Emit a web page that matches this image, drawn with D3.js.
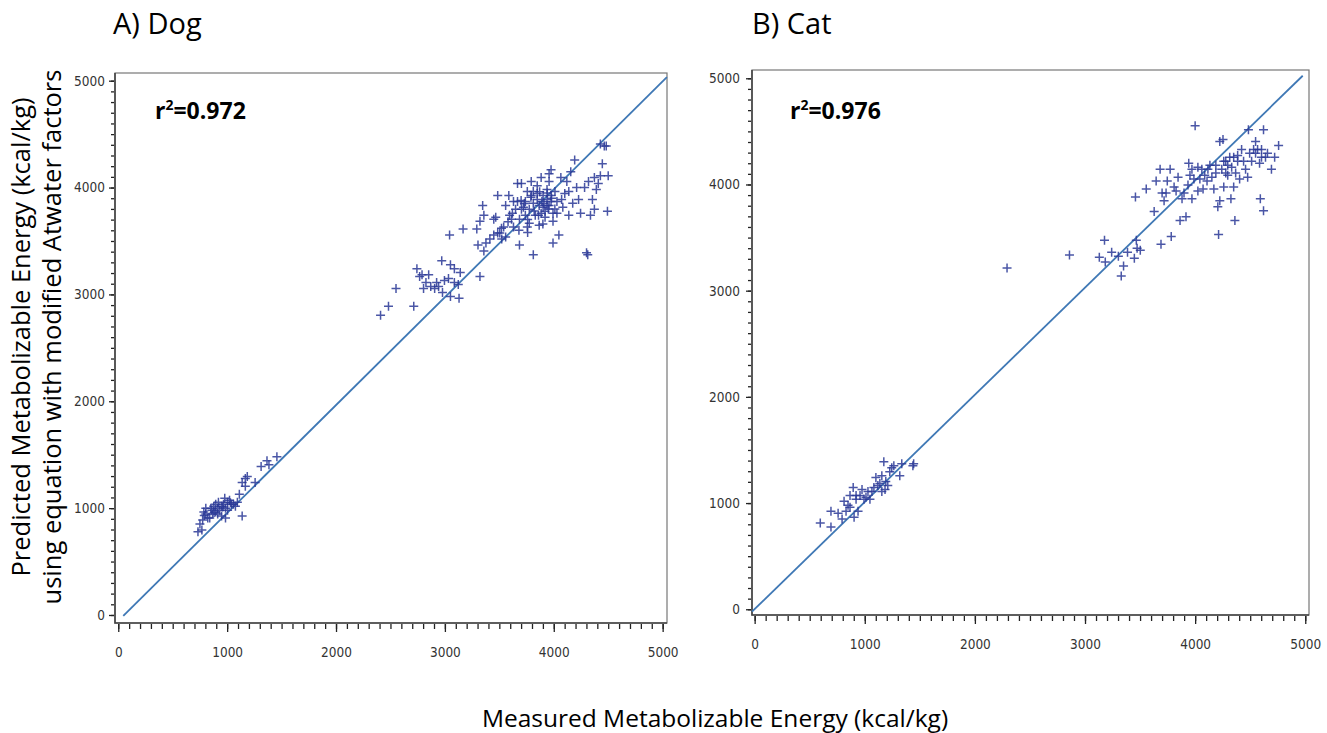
<!DOCTYPE html>
<html>
<head>
<meta charset="utf-8">
<script src="https://cdn.jsdelivr.net/npm/d3@7"></script>
<style>
	body { margin: 0; background: #fff; }
	svg { display: block; }
	.tick text { font-family: "Liberation Sans Narrow", "Arial Narrow", "DejaVu Sans Condensed", sans-serif; font-size: 13.5px; fill: #333; }
	.tick line { stroke: #222; stroke-width: 1.3; }
	.title { font-family: "Open Sans", "Noto Sans", sans-serif; }
</style>
</head>
<body>
<div id="chart"></div>
<script>
// dog: measured vs predicted ME (kcal/kg)
var dogMeasured = [
	732, 750, 775, 786, 804, 768, 822, 859, 877, 895, 913, 931, 949, 967, 985, 1004, 978, 1022, 1040, 1058,
	985, 949, 840, 895, 913, 1004, 1094, 1112, 1138, 1167, 1185, 1138, 1257, 1312, 1366, 1384, 1457, 1167, 804, 866,
	920, 1076, 790, 850, 880, 960, 1030,
	2409, 2482, 2551, 2714, 2743, 2768, 2790, 2804, 2826, 2851, 2870, 2906, 2924, 2942, 2971, 2978, 2996, 3033, 3051, 3051,
	3087, 3087, 3123, 3130, 3141, 3167, 3043, 3322, 3293, 3304, 3322, 3347, 3358, 3377, 3358, 3413, 3449, 3467, 3485, 3504,
	3522, 3540, 3558, 3587, 3594, 3630, 3649, 3630, 3667, 3685, 3703, 3685, 3721, 3739, 3757, 3757, 3775, 3793, 3812, 3812,
	3830, 3848, 3866, 3866, 3884, 3891, 3902, 3920, 3938, 3938, 3957, 3957, 3975, 3975, 3993, 3993, 4011, 4029, 4047, 4065,
	4083, 4101, 4120, 4138, 4156, 4174, 4192, 4210, 4228, 4246, 4301, 4312, 4319, 4337, 4355, 4373, 4391, 4409, 4428, 4446,
	4428, 4464, 4482, 4493, 4500, 4373, 4283, 3848, 3558, 3612, 3739, 3775, 3812, 3993, 4029, 4072, 4138, 3884, 3920, 3957,
	3793, 3703, 3667, 3449, 3485, 3975, 3938, 3902, 3848,
	3620, 3680, 3730, 3760, 3790, 3820, 3870, 3910, 3950, 3980, 4010, 3860, 3900, 3940, 3700, 3760, 3520, 3580
];
var dogPredicted = [
	778, 852, 889, 963, 944, 796, 907, 981, 1018, 963, 1000, 981, 1018, 1037, 1000, 1055, 1092, 1074, 1037, 1037,
	907, 926, 907, 1037, 944, 981, 1055, 1130, 1240, 1204, 1296, 926, 1240, 1389, 1444, 1407, 1481, 1278, 1000, 944,
	1055, 1018, 930, 1000, 960, 1010, 1050,
	2804, 2889, 3056, 2889, 3241, 3167, 3185, 3056, 3111, 3185, 3074, 3056, 3111, 3074, 3315, 3019, 3130, 3148, 3278, 2981,
	3241, 3111, 3093, 2963, 3204, 3611, 3556, 3167, 3611, 3463, 3685, 3833, 3741, 3481, 3407, 3519, 3556, 3722, 3926, 3574,
	3519, 3630, 3537, 3926, 3741, 3870, 3796, 3630, 4037, 3704, 4037, 3463, 3815, 3870, 3630, 3963, 3796, 4056, 3370, 3852,
	3741, 3944, 3648, 3833, 4093, 3870, 3926, 3778, 3981, 3889, 4130, 3833, 4167, 3926, 3481, 3759, 3963, 3870, 3556, 4093,
	3815, 3944, 4056, 3741, 4148, 3852, 4259, 4000, 3889, 3759, 3389, 3370, 4056, 3741, 3889, 3796, 3981, 4037, 4111, 4222,
	4407, 4389, 4389, 3778, 4111, 4093, 4000, 4018, 3833, 3704, 3741, 3667, 3963, 3685, 3759, 3889, 3963, 3759, 3722, 4056,
	3926, 3796, 3870, 3704, 3574, 3870, 3833, 3815, 3889,
	3760, 3600, 3850, 3700, 3910, 3780, 3960, 3850, 3800, 3900, 3800, 3740, 3660, 3950, 3880, 3580, 3620, 3680
];

// cat: measured vs predicted ME (kcal/kg)
var catMeasured = [
	596, 693, 693, 758, 812, 830, 848, 866, 895, 903, 921, 939, 921, 957, 975, 993, 1011, 1029, 1047, 1065,
	1083, 1101, 1119, 1137, 1155, 1173, 1184, 1191, 1209, 1227, 1245, 1264, 1318, 1336, 1444, 1437, 794, 866, 1155,
	2292, 2859, 3130, 3177, 3184, 3242, 3303, 3329, 3350, 3386, 3448, 3466, 3458, 3473, 3502, 3556, 3628, 3646, 3682, 3690,
	3700, 3718, 3747, 3773, 3783, 3809, 3845, 3863, 3881, 3899, 3917, 3935, 3942, 3953, 3971, 3989, 4000, 4025, 4043, 4061,
	4072, 4087, 4108, 4134, 4152, 4170, 4188, 4206, 4213, 4224, 4224, 4242, 4253, 4260, 4278, 4296, 4314, 4325, 4332, 4350,
	4361, 4368, 4386, 4404, 4422, 4440, 4458, 4477, 4484, 4495, 4513, 4531, 4549, 4567, 4585, 4592, 4603, 4621, 4621, 4639,
	4657, 4693, 4722, 4758, 4386, 4296, 4188, 4116, 4025, 3827, 3736, 4278, 4350, 4549, 4603, 3971, 4260
];
var catPredicted = [
	812, 923, 774, 905, 1016, 923, 979, 1072, 1147, 867, 1035, 923, 1072, 1072, 1128, 1035, 1054, 1109, 1035, 1109,
	1147, 1240, 1165, 1184, 1258, 1389, 1128, 1203, 1165, 1296, 1333, 1351, 1258, 1370, 1370, 1351, 849, 961, 1109,
	3213, 3336, 3314, 3474, 3269, 3362, 3325, 3138, 3232, 3362, 3306, 3474, 3883, 3399, 3380, 3958, 3745, 4032, 4144, 3436,
	3920, 3846, 4032, 4144, 3511, 3976, 4069, 3660, 3865, 3920, 3697, 3995, 4200, 4088, 3865, 4051, 4553, 3939, 4051, 4144,
	3958, 4088, 4032, 4181, 4069, 3958, 4107, 3790, 3530, 4404, 3846, 4144, 4423, 3976, 4218, 4088, 4256, 3865, 4163, 3976,
	3660, 4107, 4218, 4051, 4330, 4218, 4144, 4069, 4516, 4293, 4218, 4330, 4404, 4330, 4200, 3865, 4330, 4516, 3753, 4256,
	4293, 4144, 4256, 4367, 4274, 4181, 4181, 4144, 4163, 3939, 3920, 4107, 4256, 4293, 4256, 4144, 4218
];

// fitted lines, [x, y] end points
var dogFit = [[46, -9], [5039, 5033]];
var catFit = [[-24, -23], [4977, 5024]];

var majorTicks = [0, 1000, 2000, 3000, 4000, 5000];
var minorTicks = d3.range(0, 5001, 100);

var svg = d3.select('#chart')
	.append('svg')
	.attr('width', 1327)
	.attr('height', 733);

var drawPanel = function(p) {

	var x = d3.scaleLinear()
		.domain(p.xDomain)
		.range([p.left, p.right]);

	var y = d3.scaleLinear()
		.domain(p.yDomain)
		.range([p.bottom, p.top]);

	var g = svg.append('g');

	g.append('rect')
		.attr('x', p.left)
		.attr('y', p.top)
		.attr('width', p.right - p.left)
		.attr('height', p.bottom - p.top)
		.attr('fill', 'none')
		.attr('stroke', '#777')
		.attr('stroke-width', 1.2);

	// minor ticks first, then labelled ones; ticks sit outside the frame
	g.append('g')
		.attr('class', 'minor')
		.attr('transform', 'translate(0,' + (p.bottom + 1) + ')')
		.call(d3.axisBottom(x).tickValues(minorTicks).tickSizeInner(5).tickSizeOuter(0).tickFormat(''))
		.select('.domain').remove();

	g.append('g')
		.attr('transform', 'translate(0,' + (p.bottom + 1) + ')')
		.call(d3.axisBottom(x).tickValues(majorTicks).tickSizeInner(8).tickSizeOuter(0)
			.tickPadding(p.xPad).tickFormat(d3.format('d')))
		.select('.domain').remove();

	g.append('g')
		.attr('class', 'minor')
		.attr('transform', 'translate(' + (p.left - 1) + ',0)')
		.call(d3.axisLeft(y).tickValues(minorTicks).tickSizeInner(3).tickSizeOuter(0).tickFormat(''))
		.select('.domain').remove();

	g.append('g')
		.attr('transform', 'translate(' + (p.left - 1) + ',0)')
		.call(d3.axisLeft(y).tickValues(majorTicks).tickSizeInner(5).tickSizeOuter(0)
			.tickPadding(p.yPad).tickFormat(d3.format('d')))
		.select('.domain').remove();

	g.append('path')
		.attr('d', 'M' + p.left + ',' + p.top + 'V' + p.bottom + 'H' + p.right)
		.attr('fill', 'none')
		.attr('stroke', '#444')
		.attr('stroke-width', 1.6);

	g.append('line')
		.attr('x1', x(p.fit[0][0]))
		.attr('y1', y(p.fit[0][1]))
		.attr('x2', x(p.fit[1][0]))
		.attr('y2', y(p.fit[1][1]))
		.attr('stroke', '#3f78b5')
		.attr('stroke-width', 1.8);

	g.selectAll('path.pt')
		.data(p.xs)
		.enter()
		.append('path')
		.attr('class', 'pt')
		.attr('d', function(d, i) {
			var px = x(d), py = y(p.ys[i]);
			return 'M' + (px - 4.5) + ',' + py + 'H' + (px + 4.5) + 'M' + px + ',' + (py - 4.5) + 'V' + (py + 4.5);
		})
		.attr('stroke', '#2a3896')
		.attr('stroke-width', 1.5)
		.attr('stroke-opacity', 0.85);

	var r2 = g.append('text')
		.attr('class', 'title')
		.attr('x', p.r2x)
		.attr('y', p.r2y)
		.style('font-size', '23px')
		.style('font-weight', 'bold');
	r2.append('tspan').text('r');
	r2.append('tspan').text('2').attr('dy', -9).style('font-size', '14px');
	r2.append('tspan').text('=' + p.r2).attr('dy', 9);

	g.append('text')
		.attr('class', 'title')
		.attr('x', p.titleX)
		.attr('y', 34)
		.style('font-size', '29px')
		.text(p.title);
};

drawPanel({
	title: 'A) Dog', titleX: 113, r2: '0.972', r2x: 155, r2y: 119,
	xs: dogMeasured, ys: dogPredicted, fit: dogFit,
	left: 115, right: 667, top: 73, bottom: 623,
	xDomain: [-30, 5040], yDomain: [-75, 5072],
	xPad: 15, yPad: 4
});

drawPanel({
	title: 'B) Cat', titleX: 752, r2: '0.976', r2x: 790, r2y: 119,
	xs: catMeasured, ys: catPredicted, fit: catFit,
	left: 752, right: 1309, top: 70, bottom: 615,
	xDomain: [-24, 5034], yDomain: [-54, 5078],
	xPad: 15, yPad: 6
});

var ylab = svg.append('text')
	.attr('class', 'title')
	.attr('transform', 'translate(30,337) rotate(-90)')
	.attr('text-anchor', 'middle')
	.style('font-size', '25.5px');
ylab.append('tspan').attr('x', 0).attr('dy', 0).text('Predicted Metabolizable Energy (kcal/kg)');
ylab.append('tspan').attr('x', 0).attr('dy', 31).text('using equation with modified Atwater factors');

svg.append('text')
	.attr('class', 'title')
	.attr('x', 715)
	.attr('y', 727)
	.attr('text-anchor', 'middle')
	.style('font-size', '24.5px')
	.text('Measured Metabolizable Energy (kcal/kg)');
</script>
</body>
</html>
